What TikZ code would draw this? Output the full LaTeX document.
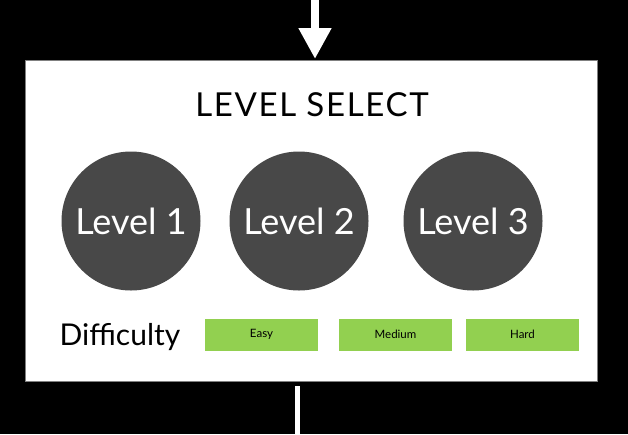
\documentclass[tikz,border=0pt]{standalone}
\usepackage{fontspec}
\setmainfont{Lato}
\usetikzlibrary{arrows.meta}
\definecolor{circ}{HTML}{484848}
\definecolor{grn}{HTML}{92D050}
\begin{document}
\begin{tikzpicture}[x=1pt,y=1pt,
  lvl/.style={circle,fill=circ,minimum size=139pt,inner sep=0pt,text=white,font=\fontsize{36}{40}\selectfont},
  diff/.style={fill=grn,minimum width=113pt,minimum height=32pt,inner sep=0pt,font=\fontsize{11.5}{13}\selectfont},
  conn/.style={white,line width=8pt}]
\fill[black] (0,0) rectangle (628,-434);
\useasboundingbox (0,0) rectangle (628,-434);
\node[fill=white,draw=gray,line width=0.8pt,minimum width=572pt,minimum height=321pt,inner sep=0pt,anchor=north west] (panel) at (25,-60) {};
\coordinate (topin) at (315,0);
\coordinate (panelin) at (315,-59);
\draw[conn,-{Triangle[width=31pt,length=31pt]}] (topin) -- (panelin);
\coordinate (outtop) at (297,-386);
\coordinate (outbot) at (297,-434);
\draw[white,line width=5pt] (outtop) -- (outbot);
\node[font=\fontsize{33}{36}\selectfont\addfontfeatures{LetterSpace=5}] (title) at (312,-105) {LEVEL SELECT};
\node[lvl] (l1) at (131,-221) {Level 1};
\node[lvl] (l2) at (299,-221) {Level 2};
\node[lvl] (l3) at (473,-221) {Level 3};
\node[anchor=base west,font=\fontsize{30}{34}\selectfont] (difficulty) at (56,-345) {Difficulty};
\node[diff] (easy) at (261.5,-334.5) {\raisebox{1.5pt}{Easy}};
\node[diff] (medium) at (395.5,-334.5) {Medium};
\node[diff] (hard) at (522.5,-334.5) {Hard};
\end{tikzpicture}
\end{document}
